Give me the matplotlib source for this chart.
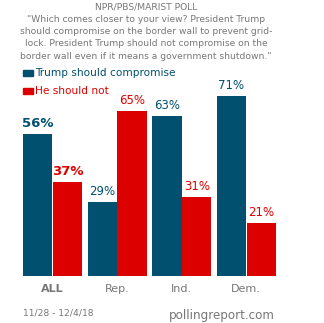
import matplotlib
matplotlib.use("Agg")
import matplotlib.pyplot as plt
import numpy as np

categories = ["ALL", "Rep.", "Ind.", "Dem."]
compromise = [56, 29, 63, 71]
should_not = [37, 65, 31, 21]
series_names = ["Trump should compromise", "He should not"]

BLUE = "#02506F"
RED = "#DD0000"
GRAY = "#777777"

W, H = 324, 323
fig = plt.figure(figsize=(W / 100, H / 100), dpi=100)
fig.patch.set_facecolor("white")

base_px = 276
top_px = base_px - 253.5
ax = fig.add_axes([23 / W, (H - base_px) / H, (276 - 23) / W, (base_px - top_px) / H])
ax.set_xlim(-0.46, 3.46)
ax.set_ylim(0, 100)
ax.axis("off")

x = np.arange(len(categories))
bw = 0.456
off = 0.232
ax.bar(x - off, compromise, bw, color=BLUE)
ax.bar(x + off, should_not, bw, color=RED)

for i, (a, b) in enumerate(zip(compromise, should_not)):
    bold = i == 0
    fs = 9.5 if bold else 8.5
    fw = "bold" if bold else "normal"
    ax.annotate(f"{a}%", (x[i] - off, a), xytext=(0, 3), textcoords="offset points",
                ha="center", va="bottom", color=BLUE, fontsize=fs, fontweight=fw)
    ax.annotate(f"{b}%", (x[i] + off, b), xytext=(0, 3), textcoords="offset points",
                ha="center", va="bottom", color=RED, fontsize=fs, fontweight=fw)
    ax.annotate(categories[i], (x[i], 0), xytext=(0, -6), textcoords="offset points",
                ha="center", va="top", color=GRAY, fontsize=8,
                fontweight="bold" if i == 0 else "normal")

title_lines = [
    "NPR/PBS/MARIST POLL",
    "\"Which comes closer to your view? President Trump",
    "should compromise on the border wall to prevent grid-",
    "lock. President Trump should not compromise on the",
    "border wall even if it means a government shutdown.\"",
]
for k, line in enumerate(title_lines):
    fig.text(146 / W, 1 - (7 + 12.3 * k) / H, line, ha="center", va="center",
             color=GRAY, fontsize=6.6)

# legend
for k, (name, col) in enumerate(zip(series_names, [BLUE, RED])):
    y = 73 + 18 * k
    fig.patches.append(plt.Rectangle((23 / W, 1 - (y + 3) / H), 10 / W, 6 / H,
                                     transform=fig.transFigure, color=col))
    fig.text(35 / W, 1 - y / H, name, ha="left", va="center", color=col, fontsize=7.6)

fig.text(23 / W, 1 - 313 / H, "11/28 - 12/4/18", ha="left", va="center",
         color=GRAY, fontsize=6.6)
fig.text(275 / W, 1 - 315 / H, "pollingreport.com", ha="right", va="center",
         color=GRAY, fontsize=8.6)

fig.savefig("out.png", dpi=100)
